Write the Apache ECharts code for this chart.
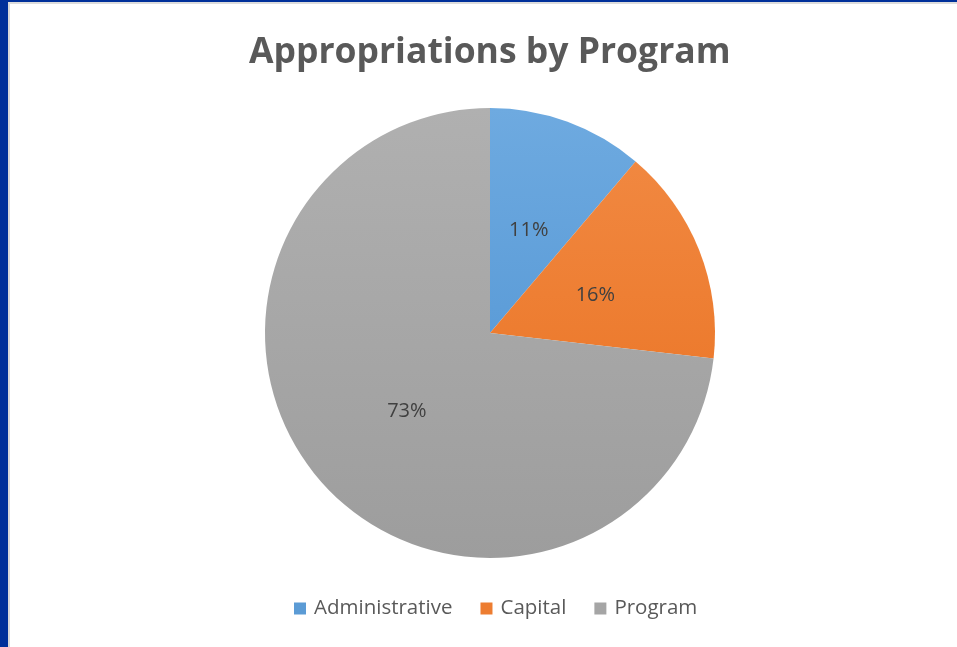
<!DOCTYPE html>
<html>
<head>
<meta charset="utf-8">
<script src="https://cdn.jsdelivr.net/npm/echarts@6/dist/echarts.min.js"></script>
<style>
  html, body { margin:0; padding:0; width:957px; height:647px; overflow:hidden; background:#00309a; }
  #frame { position:absolute; left:8px; top:2px; width:949px; height:645px; background:#ffffff;
           border-left:2px solid #d9d9d9; border-top:2px solid #dcdcdc; box-sizing:border-box; }
  #chart { position:absolute; left:0; top:0; width:957px; height:647px; }
</style>
</head>
<body>
<div id="frame"></div>
<div id="chart"></div>
<script>
const categories = ['Administrative', 'Capital', 'Program'];
const values = [11.2, 15.6, 73.2];
const titleText = 'Appropriations by Program';

const topColors = ['#6eaae0', '#f28b45', '#b0b0b0'];
const bottomColors = ['#4a8fd0', '#e86e1c', '#9d9d9d'];
const legendColors = ['#5b9bd5', '#ed7d31', '#a5a5a5'];

const chart = echarts.init(document.getElementById('chart'), null, { renderer: 'canvas' });

const data = categories.map((name, i) => ({
  name: name,
  value: values[i],
  label: { offset: i === 0 ? [-1, 6] : (i === 1 ? [-2, 5] : [3, 1]) },
  itemStyle: {
    color: {
      type: 'linear', x: 0, y: 108, x2: 0, y2: 558, global: true,
      colorStops: [
        { offset: 0, color: topColors[i] },
        { offset: 1, color: bottomColors[i] }
      ]
    }
  }
}));

chart.setOption({
  animation: false,
  backgroundColor: 'transparent',
  title: {
    text: titleText,
    left: 244,
    top: 30,
    textStyle: {
      fontFamily: 'Open Sans',
      fontWeight: 'bold',
      fontSize: 35.5,
      color: '#595959'
    }
  },
  legend: {
    bottom: 23,
    left: 289,
    itemWidth: 12,
    itemHeight: 12,
    itemGap: 28,
    icon: 'rect',
    data: categories.map((c, i) => ({ name: c, itemStyle: { color: legendColors[i] } })),
    textStyle: {
      fontFamily: 'Open Sans',
      fontSize: 20.5,
      color: '#595959',
      padding: [0, 0, 0, 3]
    }
  },
  series: [{
    type: 'pie',
    center: [490, 333],
    radius: [0, 225],
    startAngle: 90,
    clockwise: true,
    label: {
      show: true,
      position: 'inner',
      formatter: p => Math.round(p.percent) + '%',
      fontFamily: 'Open Sans',
      fontSize: 20,
      color: '#404040'
    },
    labelLine: { show: false },
    emphasis: { disabled: true },
    itemStyle: { borderWidth: 0 },
    data: data
  }]
});
</script>
</body>
</html>
